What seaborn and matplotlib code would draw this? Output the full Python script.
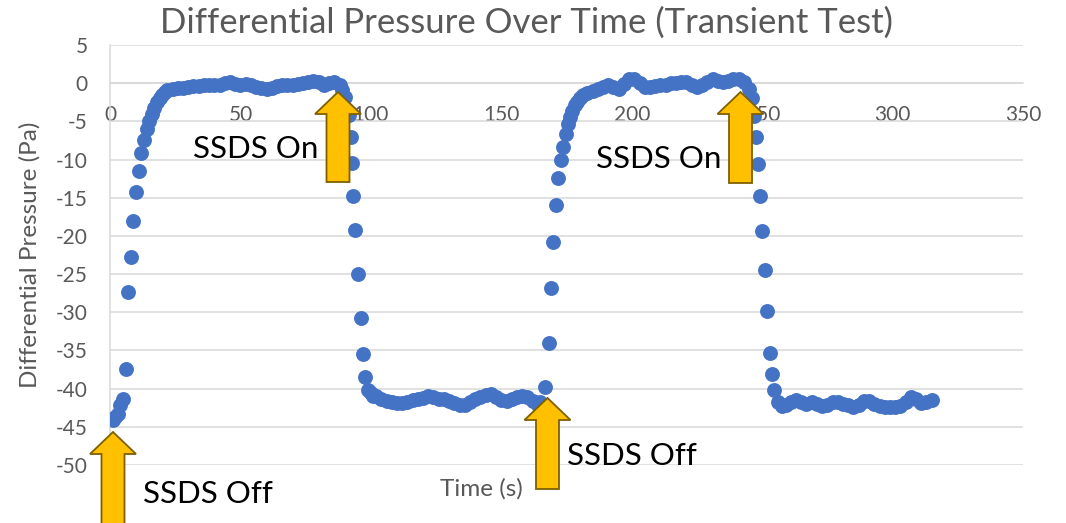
import matplotlib
matplotlib.use("Agg")
import matplotlib.pyplot as plt
from matplotlib.patches import Polygon
import pandas as pd
import seaborn as sns

# sample times (s) and differential pressure (Pa)
time_s = [
    1, 2, 3, 4, 5, 6, 7, 8, 9, 10, 11, 12, 13, 14, 15, 16, 17, 18, 19, 20, 21, 22,
    24, 26, 28, 30, 32, 34, 36, 38, 40, 42, 44, 46, 48, 50, 52, 54, 56, 58, 60,
    62, 64, 66, 68, 70, 72, 74, 76, 78, 80, 82, 84, 86, 88, 89, 90,
    91.5, 92.2, 92.8, 93.3, 94.0, 95.0, 96.1, 96.9, 97.9, 98.9, 100,
    101, 102, 104, 106, 108, 110, 112, 114, 116, 118, 120, 122, 124, 126, 128,
    130, 132, 134, 136, 138, 140, 142, 144, 146, 148, 150, 152, 154, 156, 158,
    160, 162, 164, 165,
    166.7, 168.4, 169.1, 169.9, 171, 171.8, 172.9, 173.8, 174.8, 175.6, 176.3,
    177.2, 178.2, 179.2, 180.2, 181.5, 183, 185,
    187, 189, 191, 193, 195, 197, 199, 201, 203, 205, 207, 209, 211, 213, 215,
    217, 219, 221, 223, 225, 227, 229, 231, 233, 235, 237, 239, 241, 243, 245, 246,
    247, 247.6, 248.5, 249.1, 250, 251, 252, 253.2, 253.9, 254.7, 256, 257.5,
    259, 261, 263, 265, 267, 269, 271, 273, 275, 277, 279, 281, 283, 285, 287,
    289, 291, 293, 295, 297, 299, 301, 303, 305, 307, 309, 311, 313, 315,
]
pressure_pa = [
    -44.1, -43.7, -43.3, -42.1, -41.3, -37.4, -27.4, -22.7, -18.0, -14.3, -11.5,
    -9.2, -7.4, -6.0, -4.9, -4.0, -3.2, -2.5, -1.9, -1.5, -1.2, -0.9,
    -0.7, -0.6, -0.6, -0.5, -0.4, -0.4, -0.3, -0.2, -0.3, -0.2, 0.0, 0.1, -0.1,
    -0.2, -0.1, -0.3, -0.5, -0.6, -0.7, -0.6, -0.4, -0.3, -0.3, -0.2, -0.1, 0.0,
    0.2, 0.3, 0.1, -0.2, 0.0, 0.1, -0.3, -0.9, -1.8,
    -4.2, -7.0, -10.5, -14.8, -19.2, -25.0, -30.7, -35.5, -38.5, -40.2, -40.6,
    -40.9, -41.0, -41.3, -41.6, -41.8, -41.9, -41.9, -41.7, -41.5, -41.3, -41.2,
    -41.0, -41.1, -41.3, -41.4, -41.6, -41.9, -42.1, -42.1, -41.8, -41.4, -41.1,
    -40.8, -40.7, -41.1, -41.5, -41.6, -41.3, -41.1, -41.0, -41.1, -41.6, -42.1,
    -41.8,
    -39.8, -34.0, -26.8, -20.8, -15.9, -12.4, -10.0, -8.3, -6.6, -5.3, -4.4,
    -3.6, -2.9, -2.4, -2.0, -1.6, -1.3, -1.0,
    -0.8, -0.5, -0.3, -0.5, -0.7, -0.1, 0.5, 0.6, 0.0, -0.5, -0.5, -0.4, -0.3,
    -0.2, 0.0, 0.0, 0.1, 0.2, -0.2, -0.5, -0.2, 0.2, 0.6, 0.3, 0.2, 0.3, 0.5,
    0.5, 0.1, -0.8, -2.0,
    -4.3, -7.0, -10.6, -14.8, -19.3, -24.5, -29.8, -35.3, -38.1, -40.2, -41.8,
    -42.3,
    -42.2, -41.8, -41.5, -41.7, -42.0, -41.8, -42.0, -42.3, -42.2, -41.7, -41.8,
    -42.0, -42.1, -42.4, -42.1, -41.6, -41.6, -42.0, -42.3, -42.4, -42.4, -42.4,
    -42.3, -41.8, -41.1, -41.4, -41.9, -41.7, -41.5,
]

x_ticks = [0, 50, 100, 150, 200, 250, 300, 350]
y_ticks = [5, 0, -5, -10, -15, -20, -25, -30, -35, -40, -45, -50]

# callouts: text, text left/baseline (px), arrow tip (px), arrow bottom (px)
notes = ["SSDS Off", "SSDS On", "SSDS Off", "SSDS On"]
note_pos = [(143, 503), (193, 158), (567, 465), (596, 168)]
arrow_tip = [(113, 432), (338, 92), (547.5, 398), (740.5, 92)]
arrow_bottom = [530, 182, 489, 183]

W, H = 1066, 523


def px(x, y):
    return x / W, 1 - y / H


sns.set_theme(style="white")
plt.rcParams["font.family"] = ["Lato", "DejaVu Sans"]
plt.rcParams["axes.unicode_minus"] = False

df = pd.DataFrame({"Time (s)": time_s, "Pressure": pressure_pa})

fig = plt.figure(figsize=(W / 100, H / 100), dpi=100)
ax = fig.add_axes([110 / W, 1 - 465 / H, (1023 - 110) / W, 420 / H])

sns.scatterplot(data=df, x="Time (s)", y="Pressure", color="#4472C4",
                s=115, linewidth=0, ax=ax, zorder=3)

ax.set_xlim(0, 350)
ax.set_ylim(-50, 5)
ax.set_xticks(x_ticks)
ax.set_xticklabels([str(v) for v in x_ticks])
ax.set_yticks(y_ticks)
ax.set_yticklabels([str(v) for v in y_ticks])
ax.tick_params(axis="both", length=0, labelsize=15, colors="#595959")
ax.tick_params(axis="x", pad=16)
ax.tick_params(axis="y", pad=16)
ax.grid(axis="y", color="#D9D9D9", linewidth=1.1)
ax.set_axisbelow(True)
for side in ["top", "right"]:
    ax.spines[side].set_visible(False)
ax.spines["bottom"].set_position(("data", 0))
ax.spines["bottom"].set_color("#D9D9D9")
ax.spines["bottom"].set_linewidth(1.1)
ax.spines["left"].set_color("#D9D9D9")
ax.spines["left"].set_linewidth(1.1)
ax.set_xlabel("")
ax.set_ylabel("")

fig.text(*px(160, 33), "Differential Pressure Over Time (Transient Test)",
         fontsize=25, color="#595959", ha="left", va="baseline")
fig.text(*px(30, 255), "Differential Pressure (Pa)", rotation=90,
         fontsize=17.5, color="#595959", ha="center", va="center")
fig.text(*px(440, 496), "Time (s)", fontsize=17.5, color="#595959",
         ha="left", va="baseline")

for label, (tx, ty), (ax_, ay), bot in zip(notes, note_pos, arrow_tip, arrow_bottom):
    head_half, shaft_half, head_len = 23, 11.5, 22
    pts = [
        (ax_, ay),
        (ax_ + head_half, ay + head_len),
        (ax_ + shaft_half, ay + head_len),
        (ax_ + shaft_half, bot),
        (ax_ - shaft_half, bot),
        (ax_ - shaft_half, ay + head_len),
        (ax_ - head_half, ay + head_len),
    ]
    poly = Polygon([px(x, y) for x, y in pts], closed=True, transform=fig.transFigure,
                   facecolor="#FFC000", edgecolor="#7F6000", linewidth=1.3, zorder=5)
    fig.add_artist(poly)
    fig.text(*px(tx, ty), label, fontsize=22.5, color="black", ha="left",
             va="baseline", zorder=6)

fig.savefig("out.png", dpi=100)
plt.close(fig)
